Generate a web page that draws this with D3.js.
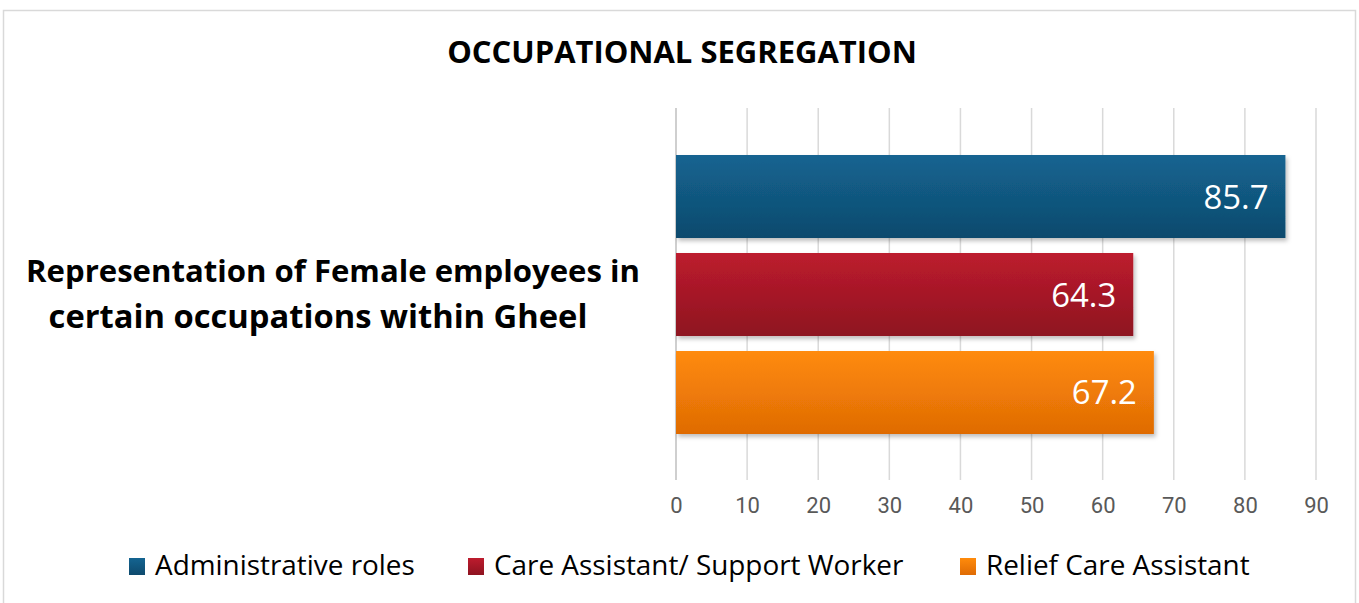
<!DOCTYPE html>
<html><head><meta charset="utf-8">
<script src="https://cdn.jsdelivr.net/npm/d3@7"></script>
<style>body{margin:0;background:#fff}svg{display:block}</style>
</head><body>
<script>
const categories = ["Representation of Female employees in certain occupations within Gheel"];
const seriesNames = ["Administrative roles", "Care Assistant/ Support Worker", "Relief Care Assistant"];
const seriesValues = [85.7, 64.3, 67.2];
const tickValues = [0,10,20,30,40,50,60,70,80,90];
const seriesColors = [["#146491","#0e4a6d"],["#bd1c2e","#8e1320"],["#ff8b0b","#df6b04"]];

const W=1359,H=603;
const svg=d3.select("body").append("svg").attr("width",W).attr("height",H);
const defs=svg.append("defs");
seriesColors.forEach((c,i)=>{
  const g=defs.append("linearGradient").attr("id","g"+i).attr("x1",0).attr("y1",0).attr("x2",0).attr("y2",1);
  g.append("stop").attr("offset","0%").attr("stop-color",c[0]);
  g.append("stop").attr("offset","100%").attr("stop-color",c[1]);
});
const f=defs.append("filter").attr("id","sh").attr("x","-5%").attr("y","-10%").attr("width","115%").attr("height","130%");
f.append("feDropShadow").attr("dx",2).attr("dy",3).attr("stdDeviation",2).attr("flood-color","#000").attr("flood-opacity",0.25);

svg.append("rect").attr("x",3.5).attr("y",10.5).attr("width",1352).attr("height",620).attr("fill","#fff").attr("stroke","#d9d9d9").attr("stroke-width",1.5);

function fit(sel,target){const n=sel.node();let fs=parseFloat(sel.attr("font-size"));const w=n.getComputedTextLength();sel.attr("font-size",fs*target/w);}

const t=svg.append("text").attr("x",682).attr("y",63).attr("text-anchor","middle").attr("font-family","Open Sans, sans-serif").attr("font-weight","bold").attr("font-size",26).attr("fill","#000").text("OCCUPATIONAL SEGREGATION");
fit(t,470);

const x=d3.scaleLinear().domain([0,90]).range([676,1316]);
const y0=d3.scaleBand().domain(categories).range([108,480]);
const y1=d3.scaleBand().domain(seriesNames).range([y0(categories[0])+47,y0(categories[0])+y0.bandwidth()-46]).paddingInner(0.153);

// gridlines
svg.append("g").selectAll("line").data(tickValues.slice(1)).join("line")
  .attr("x1",d=>x(d)).attr("x2",d=>x(d)).attr("y1",108).attr("y2",480)
  .attr("stroke","#d9d9d9").attr("stroke-width",1.5);
svg.append("line").attr("x1",x(0)).attr("x2",x(0)).attr("y1",108).attr("y2",480).attr("stroke","#bfbfbf").attr("stroke-width",1.5);

const ax=svg.append("g").attr("transform","translate(0,480)").call(d3.axisBottom(x).tickValues(tickValues).tickSize(0).tickPadding(17));
ax.select(".domain").remove();
ax.selectAll("text").attr("font-family","Roboto, Liberation Sans, sans-serif").attr("font-size",22).attr("fill","#595959");

const bars=svg.append("g");
const labs=[];
seriesNames.forEach((s,i)=>{
  bars.append("rect").attr("x",x(0)).attr("y",y1(s)).attr("width",x(seriesValues[i])-x(0)).attr("height",y1.bandwidth())
    .attr("fill","url(#g"+i+")").attr("filter","url(#sh)");
  labs.push(bars.append("text").attr("x",x(seriesValues[i])-17).attr("y",y1(s)+y1.bandwidth()/2+12).attr("text-anchor","end")
    .attr("font-family","Open Sans, sans-serif").attr("font-size",32).attr("fill","#fff").text(seriesValues[i]));
});
fit(labs[0],65); labs.forEach(l=>l.attr("font-size",labs[0].attr("font-size")));

const lines=["Representation of Female employees in","certain occupations within Gheel"];
const l1=svg.append("text").attr("x",333).attr("y",282).attr("text-anchor","middle").attr("font-family","Open Sans, sans-serif").attr("font-weight","bold").attr("font-size",28).text(lines[0]);
fit(l1,614);
const l2=svg.append("text").attr("x",318).attr("y",328).attr("text-anchor","middle").attr("font-family","Open Sans, sans-serif").attr("font-weight","bold").attr("font-size",28).text(lines[1]);
fit(l2,539);

const legX=[129,468,960];
const leg=svg.append("g");
seriesNames.forEach((s,i)=>{
  leg.append("rect").attr("x",legX[i]).attr("y",558).attr("width",16).attr("height",17).attr("fill","url(#g"+i+")");
  leg.append("text").attr("x",legX[i]+26).attr("y",575).attr("font-family","Open Sans, sans-serif").attr("font-size",26).attr("fill","#000").text(s);
});
const lt=leg.selectAll("text").nodes();
const ref=d3.select(lt[0]); fit(ref,260); const lfs=ref.attr("font-size");
leg.selectAll("text").attr("font-size",lfs);
</script>
</body></html>
